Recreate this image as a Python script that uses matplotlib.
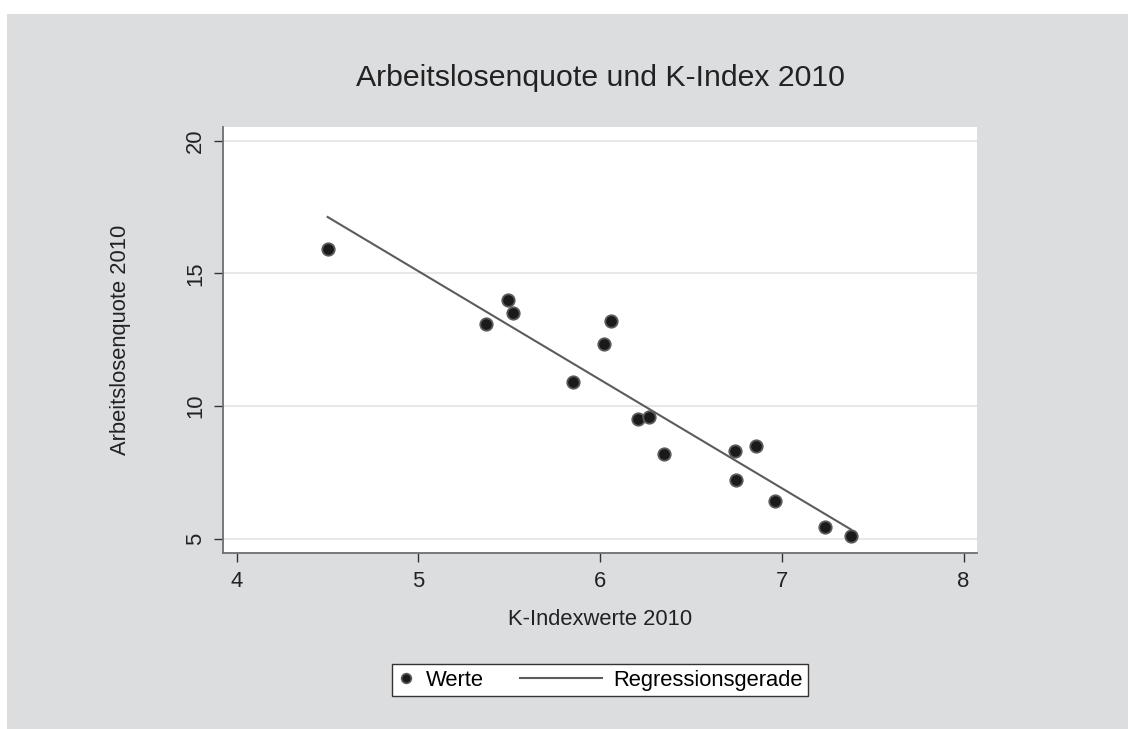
import numpy as np
import matplotlib
matplotlib.use("Agg")
import matplotlib.pyplot as plt
from matplotlib.patches import Rectangle
from matplotlib.lines import Line2D
from matplotlib.legend_handler import HandlerLine2D

# K-Indexwerte und Arbeitslosenquote 2010
k_index = [4.50, 5.37, 5.49, 5.52, 6.06, 6.02, 5.85, 6.21,
           6.27, 6.35, 6.74, 6.86, 6.75, 6.96, 7.24, 7.38]
quote = [15.91, 13.10, 14.00, 13.52, 13.22, 12.33, 10.91, 9.50,
         9.60, 8.20, 8.31, 8.49, 7.21, 6.42, 5.43, 5.11]
x_ticks = [4, 5, 6, 7, 8]
y_ticks = [5, 10, 15, 20]


class LongLineHandler(HandlerLine2D):
    # draws the legend line further to the left than the (short) handle box
    def create_artists(self, legend, orig_handle, xdescent, ydescent, width, height, fontsize, trans):
        artists = super().create_artists(legend, orig_handle, xdescent, ydescent,
                                         width, height, fontsize, trans)
        ymid = (height - ydescent) / 2
        for a in artists:
            a.set_data([-xdescent - 2.95 * fontsize, -xdescent + width], [ymid, ymid])
        return artists


plt.rcParams['font.family'] = ['Liberation Sans', 'DejaVu Sans']
fs = 15.8

fig = plt.figure(figsize=(11.28, 7.29), dpi=100)
fig.patch.set_facecolor('white')
# grey Stata-style background
fig.patches.append(Rectangle((7 / 1128, 0), 1, 1 - 14 / 729, transform=fig.transFigure,
                             facecolor='#dcdddf', edgecolor='none', zorder=-5))

ax = fig.add_axes([0.198, 0.2418, 0.668, 0.5836])
ax.set_facecolor('white')

x = np.array(k_index)
y = np.array(quote)
slope, intercept = np.polyfit(x, y, 1)
xs = np.array([x.min(), x.max()])

ax.plot(xs, intercept + slope * xs, color='#5c5c5c', linewidth=1.5, zorder=3)
ax.scatter(x, y, s=80, color='#1a1a1a', edgecolors='#5a5a5a', linewidths=1.3, zorder=4)

ax.set_xlim(3.926, 8.073)
ax.set_ylim(4.472, 20.505)
ax.set_xticks(x_ticks)
ax.set_yticks(y_ticks)
ax.grid(axis='y', color='#e8e8ea', linewidth=1.5)
ax.set_axisbelow(True)

for s in ['top', 'right']:
    ax.spines[s].set_visible(False)
for s in ['left', 'bottom']:
    ax.spines[s].set_color('#6e6e6e')
    ax.spines[s].set_linewidth(1.3)

ax.tick_params(direction='out', length=6.5, width=1, color='#333333',
               labelsize=fs, labelcolor='#222222')
ax.tick_params(axis='x', pad=7)
ax.tick_params(axis='y', pad=6)
plt.setp(ax.get_yticklabels(), rotation=90, va='center')

ax.set_title("Arbeitslosenquote und K-Index 2010", fontsize=21.8, color='#222222', pad=30)
ax.set_xlabel("K-Indexwerte 2010", fontsize=fs, color='#222222', labelpad=12)
ax.set_ylabel("Arbeitslosenquote 2010", fontsize=fs, color='#222222', labelpad=39)

h_pts = Line2D([], [], marker='o', linestyle='none', markersize=7, markerfacecolor='#1a1a1a',
               markeredgecolor='#5a5a5a', markeredgewidth=1.2, label='Werte')
h_line = Line2D([], [], color='#5c5c5c', linewidth=1.5, label='Regressionsgerade')
leg = fig.legend(handles=[h_pts, h_line], loc='center', bbox_to_anchor=(0.532, 0.067), ncol=2,
                 fontsize=fs, frameon=True, fancybox=False, edgecolor='#333333',
                 facecolor='white', framealpha=1,
                 handlelength=0.8, handletextpad=0.5, columnspacing=4.6,
                 borderpad=0.25, handler_map={h_line: LongLineHandler()})
leg.get_frame().set_linewidth(1.0)

fig.savefig("out.png", dpi=100)
